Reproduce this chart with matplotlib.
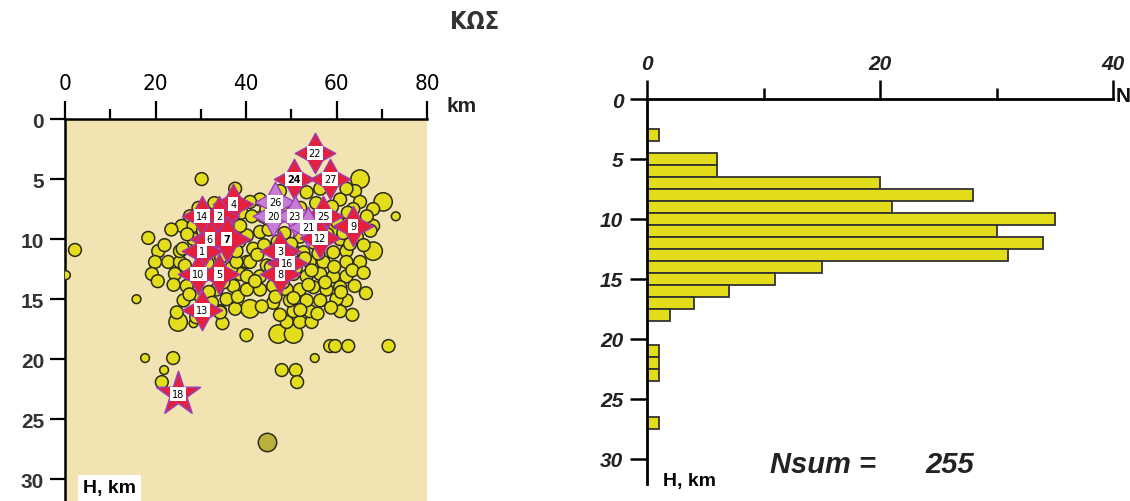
import matplotlib
matplotlib.use("Agg")
import matplotlib.pyplot as plt
from matplotlib.ticker import MultipleLocator

# depth histogram (H, km -> number of events)
depth_bins = [3, 5, 6, 7, 8, 9, 10, 11, 12, 13, 14, 15, 16, 17, 18, 21, 22, 23, 27]
depth_counts = [1, 6, 6, 20, 28, 21, 35, 30, 34, 31, 15, 11, 7, 4, 2, 1, 1, 1, 1]
n_sum = 255

# hypocentres: (distance km, depth km, size class 1..3)
east_cluster = [
    (65.2, 5.0, 3), (64.1, 6.0, 2), (70.3, 6.9, 3), (73.1, 8.1, 1), (68.1, 7.5, 2),
    (68.1, 8.9, 2), (65.2, 6.9, 2), (62.2, 5.8, 2), (60.8, 6.7, 2), (63.7, 7.5, 2),
    (66.7, 8.1, 2), (56.4, 5.8, 2), (53.4, 6.1, 2), (47.5, 6.0, 2), (43.1, 6.7, 2),
    (40.9, 6.9, 2), (43.8, 8.1, 2), (41.3, 8.1, 2), (43.1, 9.4, 2), (41.6, 10.8, 2),
    (40.9, 11.9, 2), (43.1, 13.1, 2), (44.6, 12.2, 2), (50.5, 11.0, 2), (52.7, 11.1, 2),
    (54.1, 11.9, 2), (57.1, 11.9, 2), (59.3, 11.1, 2), (62.2, 11.0, 2), (62.2, 11.9, 2),
    (65.2, 11.9, 2), (68.1, 11.0, 3), (60.8, 10.0, 2), (59.3, 9.2, 2), (50.5, 12.9, 2),
    (53.4, 13.1, 2), (56.4, 12.9, 2), (59.3, 13.1, 2), (62.2, 13.1, 2), (49.0, 14.2, 2),
    (51.9, 14.2, 2), (54.9, 14.0, 2), (57.8, 14.2, 2), (60.8, 14.0, 2), (43.1, 14.2, 2),
    (46.0, 13.9, 2), (46.0, 15.3, 2), (49.7, 15.1, 2), (53.4, 15.1, 2), (56.4, 15.1, 2),
    (60.0, 15.0, 2), (40.2, 13.1, 2), (40.2, 14.2, 2), (37.9, 11.9, 2), (37.9, 11.0, 2),
    (40.2, 9.7, 2), (38.7, 8.9, 2),
    (44.5, 7.5, 2), (48.0, 7.2, 2), (52.0, 7.4, 2), (55.5, 7.0, 2), (59.0, 7.3, 2),
    (62.5, 7.8, 2), (45.0, 9.2, 2), (48.5, 9.5, 2), (52.0, 9.8, 2), (55.0, 10.3, 2),
    (58.0, 9.6, 2), (61.5, 9.5, 2), (64.5, 9.8, 2), (66.0, 10.5, 2), (44.0, 10.5, 2),
    (47.0, 10.2, 2), (50.0, 10.4, 2), (53.0, 11.6, 2), (56.0, 11.2, 2), (59.5, 12.3, 2),
    (63.5, 12.6, 2), (66.0, 12.8, 2), (45.5, 12.3, 2), (48.2, 13.6, 2), (51.0, 12.4, 2),
    (54.5, 12.6, 2), (57.5, 13.6, 2), (61.0, 14.4, 2), (64.0, 13.9, 2), (66.5, 14.5, 2),
    (43.5, 15.6, 2), (47.5, 16.3, 2), (52.0, 15.9, 2), (55.8, 16.2, 2), (58.8, 15.7, 2),
    (63.5, 16.3, 2), (42.5, 11.3, 2), (46.5, 14.8, 2), (50.5, 14.9, 2), (53.8, 13.8, 2),
    (42.0, 13.5, 2), (44.8, 8.3, 2), (60.2, 8.6, 2), (63.0, 10.4, 2), (67.5, 9.3, 2),
]
west_cluster = [
    (30.2, 5.0, 2), (37.6, 5.8, 2), (27.6, 8.1, 2), (25.8, 8.9, 2), (28.4, 8.9, 2),
    (18.4, 9.9, 2), (20.6, 11.0, 2), (19.9, 11.9, 2), (22.8, 11.9, 2), (19.2, 12.9, 2),
    (25.4, 11.9, 2), (24.3, 12.9, 2), (26.9, 13.9, 2), (15.8, 15.0, 1), (26.2, 15.1, 2),
    (29.8, 14.7, 2), (33.5, 14.2, 2), (35.7, 15.0, 2), (37.2, 13.9, 2), (32.8, 11.9, 2),
    (38.7, 12.9, 2), (25.4, 11.0, 2), (28.4, 10.0, 2), (40.2, 11.9, 2), (24.7, 16.1, 2),
    (34.3, 16.1, 2), (37.6, 15.8, 2),
    (27.0, 9.6, 2), (30.5, 9.3, 2), (33.0, 9.8, 2), (36.5, 9.0, 2), (38.5, 10.2, 2),
    (26.5, 12.2, 2), (28.5, 12.8, 2), (31.5, 12.0, 2), (34.5, 11.5, 2), (36.8, 12.4, 2),
    (27.5, 14.6, 2), (31.8, 14.4, 2), (35.0, 13.6, 2), (38.2, 14.8, 2), (29.0, 16.5, 2),
    (32.5, 15.3, 2), (24.0, 13.8, 2), (22.0, 10.5, 2), (20.5, 13.5, 2), (23.5, 9.2, 2),
    (29.5, 7.4, 2), (33.0, 7.0, 2), (35.8, 8.4, 2), (39.0, 7.8, 2), (26.0, 10.8, 2),
]
deep_scatter = [
    (2.2, 10.9, 2), (0.2, 13.0, 1), (25.0, 16.9, 3), (28.4, 17.0, 1), (34.8, 17.0, 2),
    (40.1, 18.0, 2), (40.9, 15.8, 3), (47.1, 17.9, 3), (50.5, 17.9, 3), (49.0, 16.9, 2),
    (51.9, 16.9, 2), (54.5, 16.9, 2), (54.1, 16.0, 2), (50.5, 16.0, 2), (58.6, 18.9, 2),
    (59.7, 18.9, 2), (62.6, 18.9, 2), (71.5, 18.9, 2), (55.2, 19.9, 1), (17.7, 19.9, 1),
    (23.9, 19.9, 2), (21.9, 20.9, 1), (21.4, 21.9, 2), (47.9, 20.9, 2), (51.0, 20.9, 2),
    (51.3, 21.9, 2), (60.8, 16.0, 2), (62.2, 15.1, 2), (34.3, 16.0, 2),
]
olive_events = [(44.6, 26.9, 3)]

# strongest events, numbered
star_x = [55.2, 50.5, 58.6, 37.2, 30.2, 34.1, 46.4, 46.0, 50.8, 57.1, 53.8, 63.7,
          32.0, 56.4, 30.2, 47.5, 49.0, 29.5, 34.1, 47.5, 30.2, 35.7]
star_h = [2.8, 5.0, 5.0, 7.1, 8.1, 8.1, 6.9, 8.1, 8.1, 8.1, 9.0, 8.9,
          10.0, 9.9, 11.0, 11.0, 12.0, 12.9, 12.9, 12.9, 15.9, 10.0]
star_lbl = ["22", "24", "27", "4", "14", "2", "26", "20", "23", "25", "21", "9",
            "6", "12", "1", "3", "16", "10", "5", "8", "13", "7"]
purple_lbl = ["26", "20", "23", "21"]
big_star = (25.0, 22.9, "18")

fig = plt.figure(figsize=(11.3, 5.02), dpi=100)

arial = ["Liberation Sans", "DejaVu Sans"]

# ---------- left: depth section ----------
ax1 = fig.add_axes([65 / 1130, 0, 362 / 1130, 382 / 502])
ax1.set_facecolor("#F1E4B2")
ax1.set_xlim(0, 80)
ax1.set_ylim(31.8, 0)
for s in ["right", "bottom"]:
    ax1.spines[s].set_visible(False)
for s in ["top", "left"]:
    ax1.spines[s].set_linewidth(1.8)
ax1.xaxis.tick_top()
ax1.set_xticks([0, 20, 40, 60, 80])
ax1.xaxis.set_minor_locator(MultipleLocator(10))
ax1.set_yticks([0, 5, 10, 15, 20, 25, 30])
ax1.tick_params(axis="x", which="major", length=13, width=1.6, pad=6)
ax1.tick_params(axis="x", which="minor", length=7, width=1.6)
ax1.tick_params(axis="y", which="major", length=11, width=1.6, pad=4)
for t in ax1.get_xticklabels():
    t.set_fontfamily("DejaVu Sans")
    t.set_fontstretch("condensed")
    t.set_fontsize(16)
for t in ax1.get_yticklabels():
    t.set_fontfamily(arial)
    t.set_fontsize(15)
    t.set_fontweight("bold")
    t.set_color("#333333")

size_map = {1: 40, 2: 85, 3: 175}
for group in [deep_scatter, west_cluster, east_cluster]:
    gx = [p[0] for p in group]
    gh = [p[1] for p in group]
    gs = [size_map[p[2]] for p in group]
    ax1.scatter(gx, gh, s=gs, c="#E3DD1C", edgecolors="#2b2b1a", linewidths=1.1,
                zorder=3, clip_on=True)
ax1.scatter([p[0] for p in olive_events], [p[1] for p in olive_events],
            s=[size_map[p[2]] for p in olive_events], c="#B9B13A",
            edgecolors="#2b2b1a", linewidths=1.1, zorder=3)

for x, h, lbl in zip(star_x, star_h, star_lbl):
    face = "#C77CD6" if lbl in purple_lbl else "#E5203C"
    sz = 1100 if lbl == "7" else 850
    ax1.scatter([x], [h], s=sz, marker=(4, 1, 0), c=face, edgecolors="#9A3FB5",
                linewidths=1.0, zorder=4)
for x, h, lbl in zip(star_x, star_h, star_lbl):
    ax1.text(x, h, lbl, fontsize=7, ha="center", va="center", zorder=5,
             fontweight="bold" if lbl in ("7", "24") else "normal",
             bbox=dict(boxstyle="square,pad=0.2", fc="white", ec="none"))
ax1.scatter([big_star[0]], [big_star[1]], s=1100, marker="*", c="#E5203C",
            edgecolors="#9A3FB5", linewidths=1.2, zorder=4)
ax1.text(big_star[0], big_star[1], big_star[2], fontsize=7, ha="center", va="center",
         zorder=5, bbox=dict(boxstyle="square,pad=0.2", fc="white", ec="none"))

ax1.text(0.05, 0.012, "H, km", transform=ax1.transAxes, fontsize=14, fontweight="bold",
         fontfamily=arial, ha="left", va="bottom", zorder=6,
         bbox=dict(boxstyle="square,pad=0.25", fc="white", ec="none"))
fig.text(447 / 1130, 1 - 107 / 502, "km", fontsize=15, fontweight="bold",
         fontfamily=arial, ha="left", va="center", color="#222222")
fig.text(475 / 1130, 1 - 22 / 502, "ΚΩΣ", fontsize=17, fontweight="bold",
         fontfamily="DejaVu Sans", fontstretch="condensed", ha="center", va="center",
         color="#333333")

# ---------- right: depth histogram ----------
ax2 = fig.add_axes([647 / 1130, 17 / 502, 466 / 1130, 385 / 502])
ax2.barh(depth_bins, depth_counts, height=1.0, color="#E2DC1A",
         edgecolor="#333333", linewidth=1.3, zorder=2)
ax2.set_xlim(0, 40)
ax2.set_ylim(32.1, 0)
for s in ["right", "bottom"]:
    ax2.spines[s].set_visible(False)
for s in ["top", "left"]:
    ax2.spines[s].set_linewidth(2.0)
ax2.xaxis.tick_top()
ax2.set_xticks([0, 20, 40])
ax2.xaxis.set_minor_locator(MultipleLocator(10))
ax2.set_yticks([0, 5, 10, 15, 20, 25, 30])
ax2.tick_params(axis="x", which="major", length=14, width=1.8, pad=5)
ax2.tick_params(axis="x", which="minor", length=8, width=1.8)
ax2.tick_params(axis="y", which="major", length=12, width=1.8, pad=5)
for t in ax2.get_xticklabels() + ax2.get_yticklabels():
    t.set_fontfamily(arial)
    t.set_fontsize(15)
    t.set_fontstyle("italic")
    t.set_fontweight("bold")
    t.set_color("#222222")

fig.text(1116 / 1130, 1 - 97 / 502, "N", fontsize=15, fontweight="bold",
         fontfamily=arial, ha="left", va="center", color="#111111")
fig.text(663 / 1130, 1 - 482 / 502, "H, km", fontsize=14, fontweight="bold",
         fontfamily=arial, ha="left", va="center")
fig.text(770 / 1130, 1 - 465 / 502, "Nsum =", fontsize=21, fontweight="bold",
         fontstyle="italic", fontfamily=arial, ha="left", va="center", color="#222222")
fig.text(925 / 1130, 1 - 465 / 502, str(n_sum), fontsize=21,
         fontweight="bold", fontstyle="italic", fontfamily=arial, ha="left",
         va="center", color="#222222")

fig.savefig("out.png", dpi=100)
